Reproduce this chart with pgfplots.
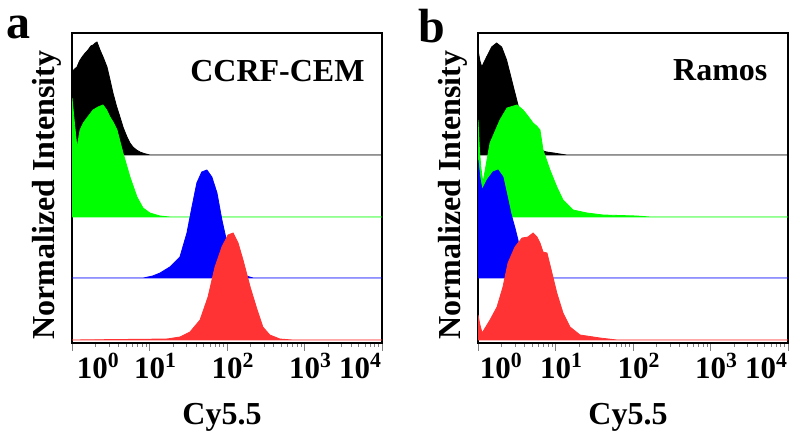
\documentclass[border=0pt]{standalone}
\usepackage{fontspec}
\setmainfont{Liberation Serif}
\usepackage{pgfplots}
\pgfplotsset{compat=1.18}
\definecolor{cgreen}{RGB}{0,255,0}
\definecolor{cblue}{RGB}{0,0,255}
\definecolor{cred}{RGB}{255,51,51}
\newcommand{\tl}[2]{\makebox[0pt][l]{\hspace{#1}10\textsuperscript{#2}}}
\begin{document}
\begin{tikzpicture}
\useasboundingbox (0,0) rectangle (400pt,221pt);
\node[anchor=base west, inner sep=0pt, font=\fontsize{24}{24}\selectfont\bfseries] at (3pt,201.5pt) {a};
\node[anchor=base west, inner sep=0pt, font=\fontsize{24}{24}\selectfont\bfseries] at (209pt,199.5pt) {b};
\begin{axis}[at={(36pt,49.5pt)}, anchor=south west,
  scale only axis, width=155pt, height=155pt,
  xmode=log, xmin=1, xmax=10000, ymin=0, ymax=310,
  xtick={1,10,100,1000,10000},
  xticklabels={{\tl{2.5pt}{0}},{\tl{-0.5em}{1}},{\tl{-0.5em}{2}},{\tl{-0.5em}{3}},{\makebox[0pt][r]{10\textsuperscript{4}}}},
  ytick=\empty,
  xtick pos=left, tick align=outside,
  major tick length=4pt, minor tick length=2pt,
  axis line style={line width=0.9pt},
  xticklabel style={font=\fontsize{15.5}{16}\selectfont\bfseries, inner sep=0pt, anchor=north, yshift=-1pt},
  xlabel={Cy5.5}, ylabel={Normalized Intensity},
  xlabel style={font=\fontsize{16}{18}\selectfont\bfseries, at={(axis description cs:0.484,-0.194)}, anchor=north, inner sep=0pt},
  ylabel style={font=\fontsize{16}{18}\selectfont\bfseries, at={(axis description cs:-0.032,0.477)}, anchor=south, inner sep=0pt}]
\addplot[fill=black, draw=black, line width=0.4pt] coordinates {(1,188) (1,271) (1.08,274) (1.16,276) (1.25,282) (1.35,286) (1.48,290) (1.61,293) (1.75,297) (1.87,298) (2.0,300) (2.10,301) (2.2,297) (2.30,293) (2.55,285) (2.83,276) (3.1,263) (3.38,250) (3.75,237) (4.16,226) (4.6,215) (5.13,206) (5.6,200) (6.12,196) (6.8,193) (7.54,191) (8.5,189.5) (10.1,188) (10000,188) (1,188)};
\addplot[fill=cgreen, draw=cgreen, line width=0.4pt] coordinates {(1,126) (1,245) (1.06,225) (1.16,195) (1.22,205) (1.27,213) (1.4,220) (1.56,225) (1.87,233) (2.17,236) (2.51,238) (2.8,233) (3.09,226) (3.45,220) (3.81,213) (4.55,190) (5.6,166) (6.89,146) (8.25,135) (10.1,130) (13.6,127) (18.4,126) (10000,126) (1,126)};
\addplot[fill=cblue, draw=cblue, line width=0.4pt] coordinates {(1,65) (8.3,65) (11,67) (13.7,70) (18.3,76) (24.7,86) (30.4,110) (35.3,136) (40.8,160) (47.2,171) (55,173) (63.8,166) (74.3,150) (86,123) (100,100) (120,80) (140,72) (161,68) (217,65) (10000,65) (1,65)};
\addplot[fill=cred, draw=cred, line width=0.4pt] coordinates {(1,3) (16.8,4) (24.7,6) (33.3,11) (44.9,23) (56.9,46) (70,76) (86,96) (103,108) (120,110) (139,100) (161,83) (199,56) (245,33) (290,16) (357,8) (480,4) (700,3) (10000,3) (1,3)};
\node[anchor=base east, inner sep=0pt, font=\fontsize{16}{18}\selectfont\bfseries] at (axis description cs:0.945,0.842) {CCRF-CEM};
\end{axis}
\begin{axis}[at={(239pt,49.5pt)}, anchor=south west,
  scale only axis, width=155pt, height=155pt,
  xmode=log, xmin=1, xmax=10000, ymin=0, ymax=310,
  xtick={1,10,100,1000,10000},
  xticklabels={{\tl{1pt}{0}},{\tl{-0.5em}{1}},{\tl{-0.5em}{2}},{\tl{-0.5em}{3}},{\makebox[0pt][r]{10\textsuperscript{4}}}},
  ytick=\empty,
  xtick pos=left, tick align=outside,
  major tick length=4pt, minor tick length=2pt,
  axis line style={line width=0.9pt},
  xticklabel style={font=\fontsize{15.5}{16}\selectfont\bfseries, inner sep=0pt, anchor=north, yshift=-1pt},
  xlabel={Cy5.5}, ylabel={Normalized Intensity},
  xlabel style={font=\fontsize{16}{18}\selectfont\bfseries, at={(axis description cs:0.484,-0.194)}, anchor=north, inner sep=0pt},
  ylabel style={font=\fontsize{16}{18}\selectfont\bfseries, at={(axis description cs:-0.032,0.477)}, anchor=south, inner sep=0pt}]
\addplot[fill=black, draw=black, line width=0.4pt] coordinates {(1,188) (1,293) (1.06,282) (1.12,276) (1.2,281) (1.29,286) (1.5,296) (1.74,300) (2.02,296) (2.34,283) (2.72,263) (3.16,243) (3.66,223) (4.69,203) (6.31,193) (7.7,191) (9.5,190) (11.4,189) (13.9,188) (10000,188) (1,188)};
\addplot[fill=cgreen, draw=cgreen, line width=0.4pt] coordinates {(1,126) (1,223) (1.05,190) (1.09,175) (1.16,160) (1.3,182) (1.43,200) (1.92,223) (2.37,235) (3.19,238) (3.81,233) (4.4,227) (5.13,220) (5.7,217) (6.31,213) (6.9,193) (8.49,173) (10.4,156) (12.5,143) (16.8,133) (25.5,130) (41,128) (112,127) (166,126) (10000,126) (1,126)};
\addplot[fill=cblue, draw=cblue, line width=0.4pt] coordinates {(1,65) (1,183) (1.06,165) (1.13,153) (1.31,163) (1.56,171) (1.81,173) (2.10,166) (2.44,143) (2.65,130) (3.0,115) (3.28,103) (3.70,80) (4.29,70) (5.13,66) (9.3,65) (10000,65) (1,65)};
\addplot[fill=cred, draw=cred, line width=0.4pt] coordinates {(1,3) (1,28) (1.06,18) (1.13,10) (1.43,23) (1.76,36) (2.10,56) (2.44,80) (3.0,96) (3.70,105) (4.42,106) (5.13,110) (5.77,106) (6.31,100) (6.90,91) (7.77,90) (9.0,70) (10.4,50) (12.5,30) (15.4,16) (20.7,8) (37.5,5) (62,3) (10000,3) (1,3)};
\node[anchor=base east, inner sep=0pt, font=\fontsize{16}{18}\selectfont\bfseries] at (axis description cs:0.935,0.848) {Ramos};
\end{axis}
\end{tikzpicture}
\end{document}
